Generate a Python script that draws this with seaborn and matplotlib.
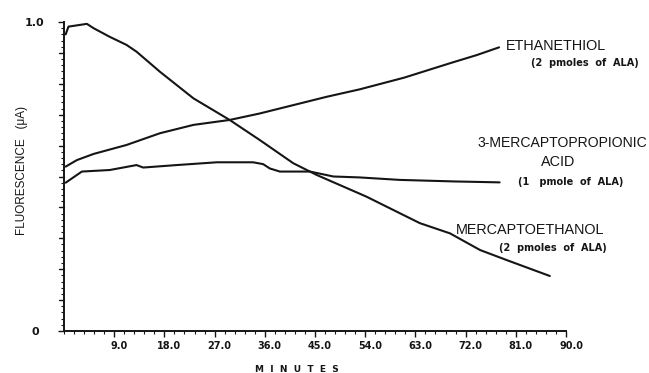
import matplotlib
matplotlib.use("Agg")
import matplotlib.pyplot as plt
import matplotlib.transforms as mtransforms
from matplotlib.ticker import MultipleLocator
import numpy as np
import pandas as pd
import seaborn as sns

# Fluorescence response (uA) over time (minutes) for each thiol
ethanethiol_t = [0.3, 2.3, 5.3, 11.2, 17.2, 23.2, 29.7, 35.1, 41.1, 47.1, 53.0, 61.0, 69.1, 74.0, 78.0]
ethanethiol_v = [0.532, 0.553, 0.573, 0.602, 0.640, 0.667, 0.683, 0.704, 0.731, 0.758, 0.782, 0.820, 0.866, 0.893, 0.918]

mpa_t = [0.3, 3.2, 8.2, 13.0, 14.2, 20.2, 27.4, 33.9, 35.7, 36.9, 38.7, 44.1, 48.3, 53.0, 60.2, 70.0, 78.1]
mpa_v = [0.480, 0.516, 0.521, 0.537, 0.529, 0.537, 0.546, 0.546, 0.540, 0.526, 0.516, 0.516, 0.500, 0.497, 0.489, 0.484, 0.481]

me_t = [0.3, 0.8, 4.1, 5.3, 8.2, 11.2, 13.0, 17.2, 23.2, 29.7, 35.1, 41.1, 45.3, 54.2, 63.8, 69.2, 74.6, 79.3, 87.1]
me_v = [0.960, 0.985, 0.994, 0.980, 0.952, 0.926, 0.904, 0.839, 0.753, 0.683, 0.618, 0.543, 0.505, 0.435, 0.349, 0.316, 0.262, 0.230, 0.178]

x_ticks = [9.0, 18.0, 27.0, 36.0, 45.0, 54.0, 63.0, 72.0, 81.0, 90.0]
x_tick_labels = ["9.0", "18.0", "27.0", "36.0", "45.0", "54.0", "63.0", "72.0", "81.0", "90.0"]

frames = []
for name, t, v in [("ETHANETHIOL", ethanethiol_t, ethanethiol_v),
                   ("3-MERCAPTOPROPIONIC ACID", mpa_t, mpa_v),
                   ("MERCAPTOETHANOL", me_t, me_v)]:
    frames.append(pd.DataFrame({"minutes": t, "fluorescence": v, "compound": name}))
df = pd.concat(frames, ignore_index=True)

sns.set_style("ticks")
plt.rcParams["font.family"] = ["DejaVu Sans"]

fig = plt.figure(figsize=(6.49, 3.73), dpi=100)
ax = fig.add_axes([64 / 649, 1 - 331 / 373, (566 - 64) / 649, (331 - 22) / 373])

ink = "#151515"
sns.lineplot(data=df, x="minutes", y="fluorescence", hue="compound", units="compound",
             estimator=None, sort=False, ax=ax, legend=False,
             palette=[ink, ink, ink], linewidth=1.5)

ax.set_xlim(0, 90)
ax.set_ylim(0, 1.0)
for s in ["top", "right"]:
    ax.spines[s].set_visible(False)
for s in ["left", "bottom"]:
    ax.spines[s].set_color(ink)
    ax.spines[s].set_linewidth(1.4)

ax.set_xticks(x_ticks)
ax.set_xticklabels(x_tick_labels, fontsize=7, fontweight="bold", color=ink)
ax.xaxis.set_minor_locator(MultipleLocator(1.8))
ax.set_yticks([0, 1.0])
ax.set_yticklabels(["0", "1.0"], fontsize=8, fontweight="bold", color=ink, ha="center")
ax.yaxis.set_minor_locator(MultipleLocator(0.02))
ax.tick_params(axis="both", which="major", length=4, width=1.0, color=ink)
ax.tick_params(axis="both", which="minor", length=2, width=0.8, color=ink)
ax.tick_params(axis="x", which="major", pad=3)
ax.tick_params(axis="y", which="major", pad=17)
# unlabelled major ticks on y every 0.1
for yv in np.arange(0.1, 1.0, 0.1):
    ax.plot([-0.9, 0], [yv, yv], color=ink, lw=1.0, clip_on=False)

shift = mtransforms.ScaledTranslation(5 / 100, 0, fig.dpi_scale_trans)
for lab in ax.get_xticklabels():
    lab.set_transform(lab.get_transform() + shift)

ax.set_xlabel("")
ax.set_ylabel("")
fig.text(22 / 649, 1 - 170 / 373, "FLUORESCENCE   (\u03bcA)", rotation=90,
         ha="center", va="center", fontsize=8.5, color=ink, family=["Liberation Sans"])
fig.text(297 / 649, 1 - 369 / 373, "M  I  N  U  T  E  S", ha="center", va="center",
         fontsize=6.5, fontweight="bold", color=ink)

lab_font = dict(color=ink, family=["Liberation Sans"], fontsize=10.4)
small_font = dict(color=ink, fontsize=7, fontweight="bold")
fig.text(556 / 649, 1 - 46 / 373, "ETHANETHIOL", ha="center", va="center", **lab_font)
fig.text(585 / 649, 1 - 63 / 373, "(2  pmoles  of  ALA)", ha="center", va="center", **small_font)
fig.text(562 / 649, 1 - 143 / 373, "3-MERCAPTOPROPIONIC", ha="center", va="center",
         color=ink, family=["Liberation Sans"], fontsize=10.1)
fig.text(558 / 649, 1 - 162 / 373, "ACID", ha="center", va="center", **lab_font)
fig.text(571 / 649, 1 - 182 / 373, "(1   pmole  of  ALA)", ha="center", va="center", **small_font)
fig.text(530 / 649, 1 - 230 / 373, "MERCAPTOETHANOL", ha="center", va="center", **lab_font)
fig.text(553 / 649, 1 - 248 / 373, "(2  pmoles  of  ALA)", ha="center", va="center", **small_font)

fig.savefig("out.png", dpi=100, facecolor="white")
